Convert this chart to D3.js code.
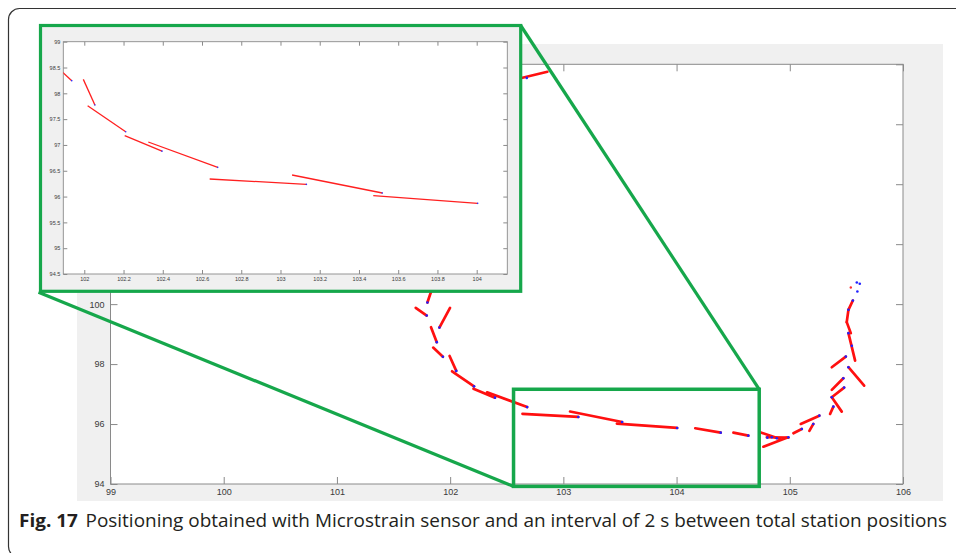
<!DOCTYPE html>
<html><head><meta charset="utf-8">
<script src="https://cdn.jsdelivr.net/npm/d3@7"></script>
<style>body{margin:0;background:#fff} svg{display:block}</style>
</head><body>
<svg id="c" width="956" height="553"></svg>
<script>
// ---------- data ----------
const xTicks = [99, 100, 101, 102, 103, 104, 105, 106];
const yTicks = [94, 96, 98, 100, 102, 104, 106, 108];
const insetXTicks = [102, 102.2, 102.4, 102.6, 102.8, 103, 103.2, 103.4, 103.6, 103.8, 104];
const insetYTicks = [94.5, 95, 95.5, 96, 96.5, 97, 97.5, 98, 98.5, 99];

// red predicted segments [x1, y1, x2, y2]
const segments = [
  [102.547, 107.47, 102.859, 107.75],
  [101.852, 100.644, 101.799, 100.053],
  [101.696, 99.877, 101.793, 99.619],
  [101.999, 99.877, 101.905, 99.219],
  [101.831, 99.232, 101.882, 98.731],
  [101.850, 98.55, 101.936, 98.245],
  [101.995, 98.27, 102.054, 97.773],
  [102.017, 97.76, 102.211, 97.257],
  [102.206, 97.18, 102.396, 96.88],
  [102.326, 97.057, 102.68, 96.566],
  [102.639, 96.34, 103.132, 96.237],
  [103.059, 96.418, 103.519, 96.069],
  [103.473, 96.017, 104.005, 95.869],
  [104.165, 95.86, 104.390, 95.713],
  [104.502, 95.713, 104.634, 95.613],
  [104.738, 95.726, 104.914, 95.503],
  [104.797, 95.559, 104.988, 95.546],
  [104.767, 95.245, 104.973, 95.546],
  [105.032, 95.693, 105.106, 95.836],
  [105.173, 95.770, 105.208, 96.003],
  [105.097, 96.003, 105.261, 96.280],
  [105.356, 96.337, 105.385, 96.581],
  [105.371, 96.895, 105.459, 96.414],
  [105.371, 96.895, 105.480, 97.215],
  [105.371, 97.139, 105.473, 97.529],
  [105.371, 97.896, 105.495, 98.250],
  [105.518, 97.896, 105.657, 97.282],
  [105.518, 99.032, 105.577, 98.117],
  [105.503, 99.399, 105.539, 99.032],
  [105.503, 99.399, 105.518, 99.810],
  [105.518, 99.810, 105.557, 100.120]
];

// blue total-station positions [x, y]
const stationPoints = [
  [102.677, 107.546], [101.799, 100.053], [101.793, 99.619], [101.905, 99.219],
  [101.882, 98.731], [101.936, 98.245], [102.054, 97.773], [102.211, 97.257],
  [102.396, 96.88], [102.68, 96.566], [103.132, 96.237], [103.519, 96.069],
  [104.005, 95.869], [104.390, 95.713], [104.634, 95.613],
  [104.802, 95.546], [104.841, 95.559], [104.885, 95.526], [104.988, 95.559],
  [105.106, 95.836], [105.208, 96.003], [105.261, 96.280], [105.385, 96.581],
  [105.371, 96.895], [105.480, 97.215], [105.473, 97.529], [105.495, 98.250],
  [105.518, 97.896], [105.518, 99.032], [105.548, 98.608], [105.518, 99.810],
  [105.557, 100.120],
  [105.592, 100.721], [105.618, 100.678], [105.597, 100.421]
];
const redPoints = [[105.539, 100.554]];

// zoom rectangle in main axes [x0, x1, y0, y1]
const zoomBox = [102.56, 104.73, 93.92, 97.16];

const captionLabel = "Fig. 17";
const captionText = "Positioning obtained with Microstrain sensor and an interval of 2 s between total station positions";

// ---------- drawing ----------
const svg = d3.select("#c");
const GREEN = "#16a74b";
const AXIS = "#8a8a8a";

// outer frame
svg.append("rect").attr("x", 8.5).attr("y", 8.5).attr("width", 980).attr("height", 549)
  .attr("rx", 11).attr("fill", "none").attr("stroke", "#333").attr("stroke-width", 1.2);

// main figure background
svg.append("rect").attr("x", 77).attr("y", 44).attr("width", 866).attr("height", 457).attr("fill", "#f0f0f0");

const M = { l: 110.5, r: 903, t: 64.3, b: 484 };
const x = d3.scaleLinear().domain([99, 106]).range([M.l, M.r]);
const y = d3.scaleLinear().domain([94, 108]).range([M.b, M.t]);

svg.append("rect").attr("x", M.l).attr("y", M.t).attr("width", M.r - M.l).attr("height", M.b - M.t).attr("fill", "#fff");

function styleAxis(g, fs) {
  g.select(".domain").remove();
  g.selectAll(".tick line").attr("stroke", AXIS);
  g.selectAll(".tick text").attr("fill", "#3a3a3a").attr("font-family", "Liberation Sans, Arial, sans-serif").attr("font-size", fs);
}
svg.append("g").attr("transform", `translate(0,${M.b})`)
  .call(d3.axisBottom(x).tickValues(xTicks).tickSizeInner(-7).tickSizeOuter(0).tickPadding(5).tickFormat(d3.format("d")))
  .call(g => styleAxis(g, 9));
svg.append("g").attr("transform", `translate(0,${M.t})`)
  .call(d3.axisTop(x).tickValues(xTicks).tickSizeInner(-7).tickSizeOuter(0).tickFormat(""))
  .call(g => styleAxis(g, 9));
svg.append("g").attr("transform", `translate(${M.l},0)`)
  .call(d3.axisLeft(y).tickValues(yTicks).tickSizeInner(-7).tickSizeOuter(0).tickPadding(6).tickFormat(d3.format("d")))
  .call(g => styleAxis(g, 9));
svg.append("g").attr("transform", `translate(${M.r},0)`)
  .call(d3.axisRight(y).tickValues(yTicks).tickSizeInner(-7).tickSizeOuter(0).tickFormat(""))
  .call(g => styleAxis(g, 9));
svg.append("rect").attr("x", M.l).attr("y", M.t).attr("width", M.r - M.l).attr("height", M.b - M.t)
  .attr("fill", "none").attr("stroke", AXIS).attr("stroke-width", 1);

// main data
svg.append("clipPath").attr("id", "mclip").append("rect")
  .attr("x", M.l).attr("y", M.t).attr("width", M.r - M.l).attr("height", M.b - M.t);
const md = svg.append("g").attr("clip-path", "url(#mclip)");
md.selectAll("line.seg").data(segments).join("line").attr("class", "seg")
  .attr("x1", d => x(d[0])).attr("y1", d => y(d[1])).attr("x2", d => x(d[2])).attr("y2", d => y(d[3]))
  .attr("stroke", "#ff1010").attr("stroke-width", 2.7).attr("stroke-linecap", "round");
md.selectAll("circle.st").data(stationPoints).join("circle").attr("class", "st")
  .attr("cx", d => x(d[0])).attr("cy", d => y(d[1])).attr("r", 1.3).attr("fill", "#2020ff");
md.selectAll("circle.rp").data(redPoints).join("circle").attr("class", "rp")
  .attr("cx", d => x(d[0])).attr("cy", d => y(d[1])).attr("r", 1.2).attr("fill", "#ff3030");

// zoom box
const zb = { x0: x(zoomBox[0]), x1: x(zoomBox[1]), y0: y(zoomBox[2]), y1: y(zoomBox[3]) };
svg.append("rect").attr("x", zb.x0).attr("y", zb.y1).attr("width", zb.x1 - zb.x0).attr("height", zb.y0 - zb.y1)
  .attr("fill", "none").attr("stroke", GREEN).attr("stroke-width", 3.5);

// inset
const I = { ox: 40.5, oy: 25.5, ow: 480.2, oh: 265.8, l: 63.3, r: 507.3, t: 41.7, b: 274 };
svg.append("line").attr("x1", I.ox + I.ow).attr("y1", I.oy).attr("x2", zb.x1).attr("y2", zb.y1)
  .attr("stroke", GREEN).attr("stroke-width", 3.2);
svg.append("line").attr("x1", I.ox - 2).attr("y1", I.oy + I.oh + 1).attr("x2", zb.x0).attr("y2", zb.y0)
  .attr("stroke", GREEN).attr("stroke-width", 3.2);

svg.append("rect").attr("x", I.ox).attr("y", I.oy).attr("width", I.ow).attr("height", I.oh).attr("fill", "#f0f0f0");
const ix = d3.scaleLinear().domain([101.893, 104.156]).range([I.l, I.r]);
const iy = d3.scaleLinear().domain([94.5, 99]).range([I.b, I.t]);
svg.append("rect").attr("x", I.l).attr("y", I.t).attr("width", I.r - I.l).attr("height", I.b - I.t).attr("fill", "#fff");
const fmt = d => String(+d.toFixed(1));
svg.append("g").attr("transform", `translate(0,${I.b})`)
  .call(d3.axisBottom(ix).tickValues(insetXTicks).tickSizeInner(-4).tickSizeOuter(0).tickPadding(3).tickFormat(fmt))
  .call(g => styleAxis(g, 5.5));
svg.append("g").attr("transform", `translate(0,${I.t})`)
  .call(d3.axisTop(ix).tickValues(insetXTicks).tickSizeInner(-4).tickSizeOuter(0).tickFormat(""))
  .call(g => styleAxis(g, 5.5));
svg.append("g").attr("transform", `translate(${I.l},0)`)
  .call(d3.axisLeft(iy).tickValues(insetYTicks).tickSizeInner(-4).tickSizeOuter(0).tickPadding(3).tickFormat(fmt))
  .call(g => styleAxis(g, 5.5));
svg.append("g").attr("transform", `translate(${I.r},0)`)
  .call(d3.axisRight(iy).tickValues(insetYTicks).tickSizeInner(-4).tickSizeOuter(0).tickFormat(""))
  .call(g => styleAxis(g, 5.5));
svg.append("rect").attr("x", I.l).attr("y", I.t).attr("width", I.r - I.l).attr("height", I.b - I.t)
  .attr("fill", "none").attr("stroke", AXIS).attr("stroke-width", 0.9);

svg.append("clipPath").attr("id", "iclip").append("rect")
  .attr("x", I.l).attr("y", I.t).attr("width", I.r - I.l).attr("height", I.b - I.t);
const idg = svg.append("g").attr("clip-path", "url(#iclip)");
idg.selectAll("line").data(segments).join("line")
  .attr("x1", d => ix(d[0])).attr("y1", d => iy(d[1])).attr("x2", d => ix(d[2])).attr("y2", d => iy(d[3]))
  .attr("stroke", "#ff2020").attr("stroke-width", 1.3);
idg.selectAll("circle").data(stationPoints).join("circle")
  .attr("cx", d => ix(d[0])).attr("cy", d => iy(d[1])).attr("r", 0.8).attr("fill", "#3030ff");

svg.append("rect").attr("x", I.ox).attr("y", I.oy).attr("width", I.ow).attr("height", I.oh)
  .attr("fill", "none").attr("stroke", GREEN).attr("stroke-width", 3.2);

// caption
const cap = svg.append("text").attr("font-family", "Open Sans, sans-serif").attr("font-size", 17.5).attr("fill", "#231f20");
cap.append("tspan").attr("font-weight", "bold").text(captionLabel);
cap.append("tspan").attr("dx", 7).text(captionText);
const w = cap.node().getComputedTextLength();
cap.attr("transform", `translate(19,526.5) scale(${921 / w},1)`);
</script>
</body></html>
